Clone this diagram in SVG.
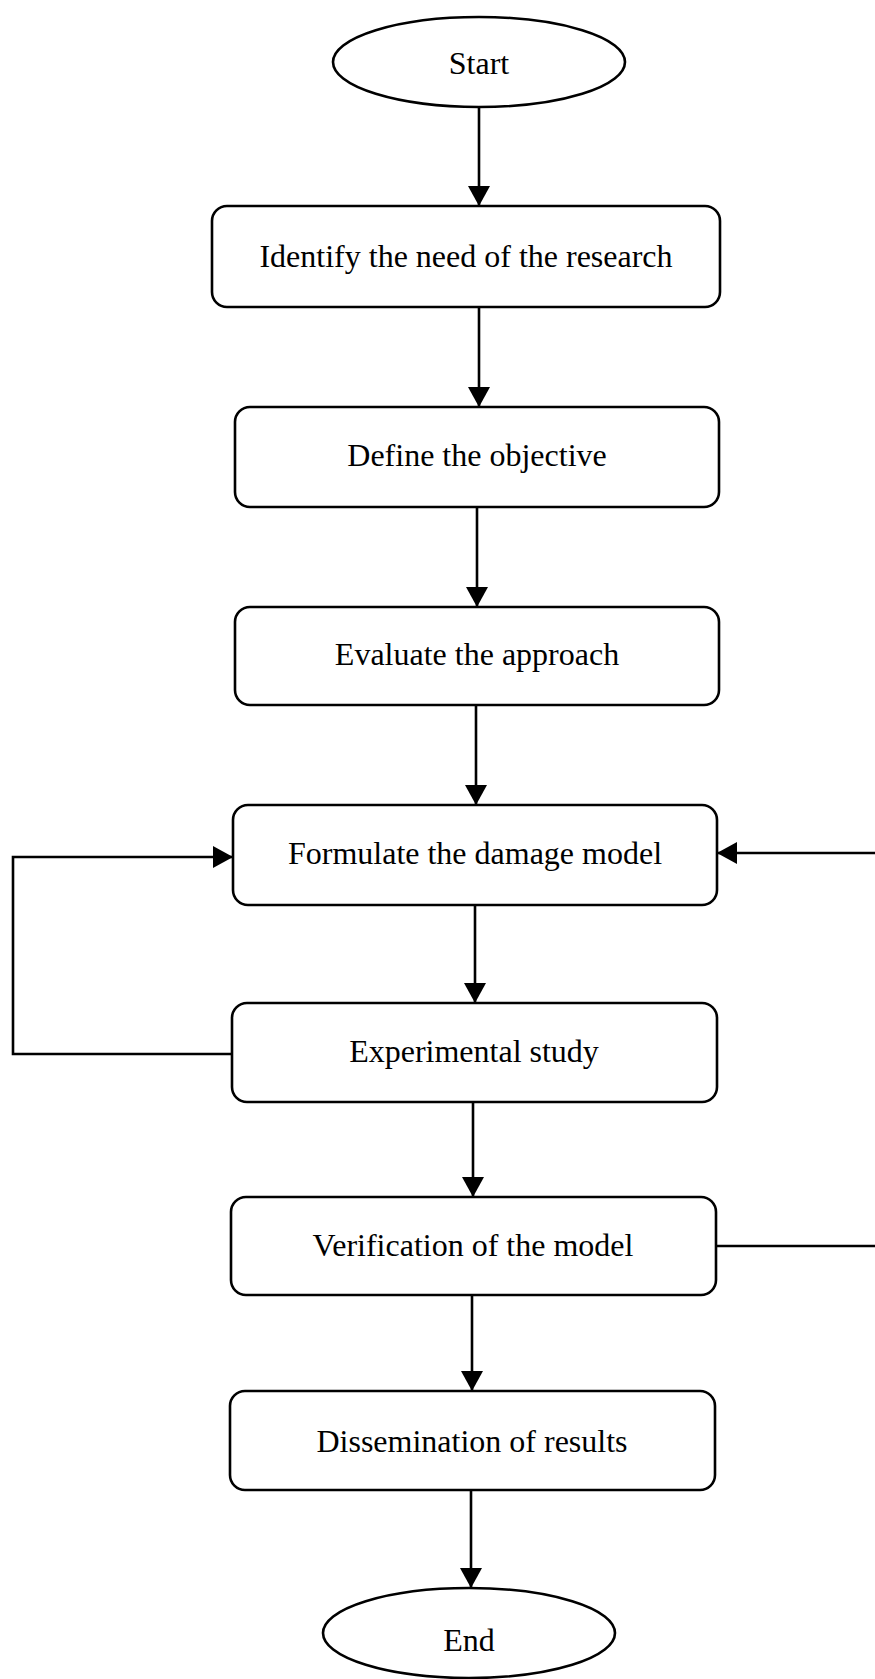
<svg xmlns="http://www.w3.org/2000/svg" width="875" height="1679" viewBox="0 0 875 1679">
<style>
.box{fill:#fff;stroke:#000;stroke-width:2.6}
.lbl{font-family:"Liberation Serif","Times New Roman",serif;font-size:32px;fill:#000;text-anchor:middle}
.con{fill:none;stroke:#000;stroke-width:2.6}
</style>
<defs>
<marker id="arr" markerUnits="userSpaceOnUse" markerWidth="22" markerHeight="22" viewBox="0 0 20 22" refX="20" refY="11" orient="auto">
<path d="M0,0 L20,11 L0,22 Z" fill="#000"/>
</marker>
</defs>
<rect width="875" height="1679" fill="#fff"/>
<g id="connectors">
<line class="con" x1="479" y1="107" x2="479" y2="206" marker-end="url(#arr)"/>
<line class="con" x1="479" y1="307" x2="479" y2="407" marker-end="url(#arr)"/>
<line class="con" x1="477" y1="507" x2="477" y2="607" marker-end="url(#arr)"/>
<line class="con" x1="476" y1="705" x2="476" y2="805" marker-end="url(#arr)"/>
<line class="con" x1="475" y1="905" x2="475" y2="1003" marker-end="url(#arr)"/>
<line class="con" x1="473" y1="1102" x2="473" y2="1197" marker-end="url(#arr)"/>
<line class="con" x1="472" y1="1295" x2="472" y2="1391" marker-end="url(#arr)"/>
<line class="con" x1="471" y1="1490" x2="471" y2="1588" marker-end="url(#arr)"/>
<path class="con" d="M232,1054 H13 V857 H233" marker-end="url(#arr)"/>
<path class="con" d="M716,1246 H880 V853 H717" marker-end="url(#arr)"/>
</g>
<g id="start">
<ellipse class="box" cx="479" cy="62" rx="146" ry="45"/>
<text class="lbl" x="479" y="74">Start</text>
</g>
<g id="identify">
<rect class="box" x="212" y="206" width="508" height="101" rx="15"/>
<text class="lbl" x="466" y="267">Identify the need of the research</text>
</g>
<g id="define">
<rect class="box" x="235" y="407" width="484" height="100" rx="15"/>
<text class="lbl" x="477" y="466">Define the objective</text>
</g>
<g id="evaluate">
<rect class="box" x="235" y="607" width="484" height="98" rx="15"/>
<text class="lbl" x="477" y="665">Evaluate the approach</text>
</g>
<g id="formulate">
<rect class="box" x="233" y="805" width="484" height="100" rx="15"/>
<text class="lbl" x="475" y="864">Formulate the damage model</text>
</g>
<g id="experimental">
<rect class="box" x="232" y="1003" width="485" height="99" rx="15"/>
<text class="lbl" x="474" y="1062">Experimental study</text>
</g>
<g id="verification">
<rect class="box" x="231" y="1197" width="485" height="98" rx="15"/>
<text class="lbl" x="473" y="1256">Verification of the model</text>
</g>
<g id="dissemination">
<rect class="box" x="230" y="1391" width="485" height="99" rx="15"/>
<text class="lbl" x="472" y="1452">Dissemination of results</text>
</g>
<g id="end">
<ellipse class="box" cx="469" cy="1633" rx="146" ry="45"/>
<text class="lbl" x="469" y="1651">End</text>
</g>
</svg>
